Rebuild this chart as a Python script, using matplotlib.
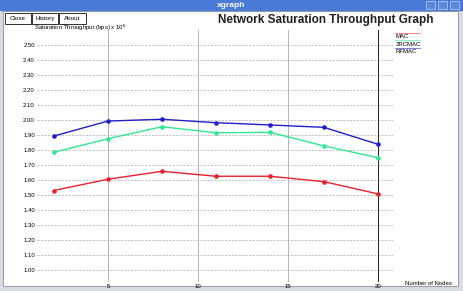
import matplotlib.pyplot as plt
from matplotlib.patches import Rectangle

# data
nodes = [2, 5, 8, 11, 14, 17, 20]
mac = [1.53, 1.605, 1.658, 1.625, 1.625, 1.589, 1.507]
rc2mac = [1.785, 1.875, 1.955, 1.915, 1.918, 1.827, 1.749]
rfmac = [1.893, 1.993, 2.005, 1.982, 1.967, 1.951, 1.838]
series_names = ['MAC', '2RCMAC', 'RFMAC']
yticks = [1.0, 1.1, 1.2, 1.3, 1.4, 1.5, 1.6, 1.7, 1.8, 1.9, 2.0, 2.1, 2.2, 2.3, 2.4, 2.5]
xticks = [5, 10, 15, 20]

W, H = 463, 291
fig = plt.figure(figsize=(W / 100, H / 100), dpi=100)
plt.rcParams['font.family'] = ['Liberation Sans', 'DejaVu Sans']

def px(x, y):  # pixel -> figure fraction
    return x / W, 1 - y / H

# window frame
fig.patches.append(Rectangle((0, 0), 1, 1, transform=fig.transFigure, color='#d8dce4', zorder=0))
fig.patches.append(Rectangle(px(3, 286), 455 / W, 275 / H, transform=fig.transFigure,
                             facecolor='white', edgecolor='#a0a0a0', lw=0.8, zorder=0))
fig.patches.append(Rectangle(px(0, 10), 1, 10 / H, transform=fig.transFigure, color='#4a7ad8', zorder=1))
fig.text(*px(231, 5.5), 'xgraph', color='white', fontsize=6, weight='bold', ha='center', va='center')
for bx in [426, 438, 450]:
    fig.patches.append(Rectangle(px(bx, 8.5), 9 / W, 7 / H, transform=fig.transFigure,
                                 facecolor='#5a8ae0', edgecolor='#c0d0f0', lw=0.5, zorder=2))
for lbl, x0, w in [('Close', 5, 26), ('History', 32, 26), ('About', 59, 27)]:
    fig.patches.append(Rectangle(px(x0, 24), w / W, 11 / H, transform=fig.transFigure,
                                 facecolor='white', edgecolor='#303030', lw=0.7, zorder=2))
    fig.text(*px(x0 + w / 2, 18.5), lbl, fontsize=4.5, ha='center', va='center')

fig.text(*px(326, 20), 'Network Saturation Throughput Graph', fontsize=8.5, weight='bold',
         color='#202020', ha='center', va='center')
fig.text(*px(34, 27.5), 'Saturation Throughput (bps) x 10$^6$', fontsize=4.3, ha='left', va='center')
fig.text(*px(428, 283.5), 'Number of Nodes', fontsize=4.3, ha='center', va='center')

# plot area mapped so x=5 -> 108px, x=20 -> 378px, y=2.0 -> 120px, 0.1 per 15px
ax = fig.add_axes([37 / W, 1 - 282 / H, (393 - 37) / W, (282 - 30) / H])
ax.set_zorder(5)
ax.set_xlim(1.06, 20.83)
ax.set_ylim(0.92, 2.6)
ax.patch.set_alpha(0)
for s in ax.spines.values():
    s.set_visible(False)

for yv in yticks:
    ax.axhline(yv, color='#a8a8a8', lw=0.5, ls=(0, (3, 2)), zorder=1)
for xv in xticks:
    ax.axvline(xv, color='#202020' if xv == 20 else '#b4b4b4', lw=0.7, zorder=1)

colors = ['#e8202c', '#30e890', '#2020c8']
for ys, c in zip([mac, rc2mac, rfmac], colors):
    ax.plot(nodes, ys, color=c, lw=1.0, marker='o', ms=2.3, zorder=3)

ax.set_yticks(yticks)
ax.set_yticklabels(['%.2f' % v for v in yticks], fontsize=4.3)
ax.set_xticks(xticks)
ax.set_xticklabels([str(v) for v in xticks], fontsize=4.3)
ax.tick_params(length=0, pad=1.5)

# legend as xgraph draws it: line above each name
for i, (name, c) in enumerate(zip(series_names, colors)):
    yy = 36.5 + i * 7.5
    fig.text(*px(396, yy), name, fontsize=4.3, ha='left', va='center')
    fig.lines.append(plt.Line2D([395 / W, 420 / W], [1 - (yy - 3.5) / H] * 2,
                                transform=fig.transFigure, color=c, lw=0.5, alpha=0.8))

fig.savefig('out.png', dpi=100)
